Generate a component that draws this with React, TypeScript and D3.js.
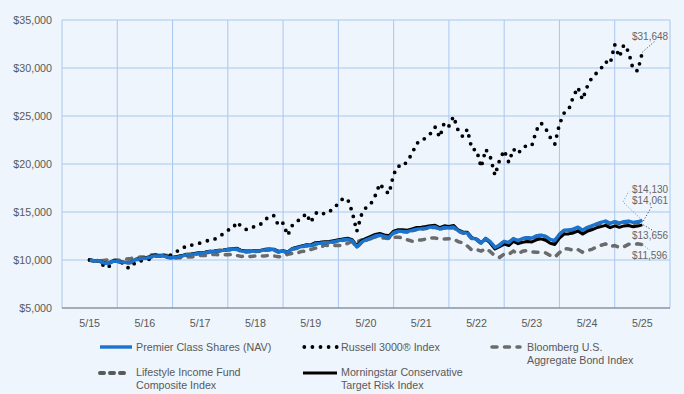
import React from 'react';
import * as d3 from 'd3';

// Month index 0 = 5/15 ... 120 = 5/25
const tickLabels = ['5/15', '5/16', '5/17', '5/18', '5/19', '5/20', '5/21', '5/22', '5/23', '5/24', '5/25'];
const yTicks = [5000, 10000, 15000, 20000, 25000, 30000, 35000];

const premier = [
  10000, 9900, 9930, 9700, 9620, 9880, 9860, 9780, 9720, 9760, 10050, 10130,
  10170, 10280, 10420, 10430, 10440, 10300, 10240, 10300, 10400, 10540, 10560, 10640,
  10730, 10760, 10860, 10900, 10960, 11000, 11080, 11120, 11150, 10930, 10880, 10900,
  10940, 10950, 11060, 11100, 11080, 10860, 10920, 10800, 11150, 11270, 11400, 11520,
  11480, 11700, 11740, 11800, 11830, 11920, 12020, 12100, 12160, 12020, 11350, 11850,
  12100, 12290, 12500, 12600, 12450, 12360, 12850, 13000, 12980, 12950, 13080, 13220,
  13260, 13320, 13420, 13460, 13220, 13400, 13330, 13440, 13050, 12850, 12800, 12250,
  12180, 11780, 12220, 11900, 11300, 11550, 11950, 11800, 12230, 12000, 12250, 12330,
  12280, 12500, 12600, 12460, 12150, 12020, 12680, 13100, 13120, 13220, 13420, 13100,
  13380, 13550, 13750, 13930, 14060, 13820, 14000, 13850, 14000, 14050, 13920, 13980,
  14130,
];

const russell = [
  10000, 9810, 9980, 9420, 9170, 9900, 9940, 9740, 9200, 9200, 9830, 9890,
  10060, 10080, 10460, 10480, 10480, 10250, 10720, 10920, 11110, 11520, 11530, 11650,
  11770, 11880, 12100, 12130, 12440, 12720, 13110, 13250, 13960, 13440, 13180, 13230,
  13600, 13680, 14100, 14600, 14620, 13580, 13850, 12560, 13600, 14060, 14270, 14860,
  13900, 14850, 15060, 14780, 15030, 15360, 15930, 16390, 16370, 15020, 12980, 14680,
  15460, 15800, 16700, 17950, 17290, 16900, 18930, 19790, 19720, 20340, 21070, 22180,
  22290, 22800, 23170, 23840, 22780, 24310, 23950, 24960, 23500, 22850, 23620, 21520,
  21480, 19660, 21530, 20720, 18820, 20400, 21420, 20170, 21560, 21070, 21720, 21930,
  21900, 23520, 24270, 23700, 22770, 22080, 24150, 25300, 25650, 27000, 27980, 26700,
  28030, 28960, 29450, 29930, 30660, 30420, 32430, 31150, 32430, 31700, 29840, 29700,
  31648,
];

const bloomberg = [
  10000, 9891, 9960, 9946, 10014, 10016, 9990, 9958, 10095, 10167, 10261, 10300,
  10303, 10488, 10554, 10543, 10536, 10456, 10208, 10223, 10243, 10312, 10307, 10386,
  10466, 10456, 10501, 10595, 10544, 10551, 10537, 10586, 10464, 10365, 10431, 10354,
  10428, 10415, 10417, 10484, 10417, 10334, 10396, 10587, 10699, 10693, 10898, 10901,
  11095, 11235, 11260, 11551, 11489, 11524, 11518, 11510, 11731, 11942, 11872, 12083,
  12140, 12216, 12398, 12298, 12292, 12237, 12357, 12374, 12285, 12108, 11957, 12051,
  12091, 12175, 12311, 12288, 12181, 12177, 12214, 12182, 11920, 11786, 11458, 11024,
  11095, 10921, 11187, 10870, 10400, 10265, 10643, 10595, 10921, 10638, 10908, 10975,
  10855, 10816, 10808, 10739, 10466, 10301, 10768, 11180, 11150, 10993, 11094, 10813,
  10997, 11101, 11361, 11525, 11679, 11389, 11510, 11321, 11381, 11631, 11636, 11681,
  11596,
];

const lifestyle = [
  10000, 9890, 9920, 9690, 9610, 9870, 9850, 9770, 9710, 9750, 10040, 10110,
  10150, 10260, 10400, 10410, 10420, 10280, 10220, 10280, 10380, 10520, 10540, 10620,
  10710, 10740, 10840, 10880, 10940, 10980, 11060, 11100, 11130, 10910, 10860, 10880,
  10920, 10930, 11040, 11080, 11060, 10840, 10900, 10780, 11130, 11250, 11380, 11500,
  11460, 11680, 11720, 11780, 11810, 11900, 12000, 12080, 12140, 12000, 11340, 11830,
  12080, 12270, 12480, 12580, 12430, 12340, 12830, 12980, 12960, 12930, 13060, 13200,
  13240, 13300, 13400, 13440, 13200, 13380, 13310, 13420, 13030, 12830, 12770, 12220,
  12150, 11750, 12190, 11870, 11270, 11520, 11920, 11770, 12200, 11970, 12210, 12290,
  12240, 12460, 12560, 12410, 12100, 11970, 12630, 13040, 13060, 13160, 13360, 13040,
  13320, 13490, 13690, 13870, 14000, 13760, 13940, 13790, 13930, 13980, 13850, 13910,
  14061,
];

const morningstar = [
  10000, 9920, 9950, 9720, 9640, 9900, 9880, 9800, 9740, 9780, 10070, 10150,
  10220, 10340, 10490, 10490, 10500, 10360, 10290, 10360, 10460, 10600, 10620, 10700,
  10780, 10810, 10910, 10950, 11010, 11050, 11130, 11170, 11220, 10980, 10930, 10950,
  10990, 11000, 11110, 11150, 11130, 10900, 10970, 10840, 11210, 11330, 11460, 11580,
  11570, 11800, 11840, 11900, 11930, 12020, 12120, 12200, 12260, 12110, 11500, 12000,
  12260, 12450, 12660, 12760, 12610, 12520, 13010, 13160, 13140, 13110, 13240, 13380,
  13420, 13480, 13580, 13620, 13380, 13560, 13490, 13600, 13130, 12930, 12880, 12330,
  12180, 11780, 12220, 11750, 11150, 11400, 11650, 11500, 11930, 11700, 11850, 11930,
  11880, 12100, 12200, 12060, 11750, 11620, 12280, 12700, 12720, 12820, 13020, 12700,
  12980, 13150, 13350, 13480, 13610, 13370, 13550, 13400, 13550, 13600, 13470, 13530,
  13656,
];

const FONT = 'Arial, "Liberation Sans", Helvetica, sans-serif';
const BLUE = '#1a73cc';
const GRID = '#a9c7ef';
const TEXT = '#595959';

export default function App() {
  const W = 684;
  const H = 394;
  const x = d3.scaleLinear().domain([-6, 126]).range([62, 670]);
  const y = d3.scaleLinear().domain([5000, 35000]).range([308, 20]);
  const line = d3
    .line<number>()
    .x((_, i) => x(i))
    .y((d) => y(d));

  const fmt = (v: number) => '$' + d3.format(',')(v);
  const last = (a: number[]) => a[a.length - 1];
  const xe = x(120);

  const vGrid = d3.range(0, 12).map((k) => -6 + 12 * k);

  return (
    <svg
      width={W}
      height={H}
      style={{ position: 'absolute', left: 0, top: 0, display: 'block' }}
      fontFamily={FONT}
    >
      <rect x={0} y={0} width={W} height={H} fill="#eef5fc" />
      {/* grid */}
      {yTicks.map((t) => (
        <line key={'h' + t} x1={x(-6)} x2={x(126)} y1={y(t)} y2={y(t)} stroke={GRID} strokeWidth={1} />
      ))}
      {vGrid.map((m) => (
        <line key={'v' + m} x1={x(m)} x2={x(m)} y1={y(35000)} y2={y(5000)} stroke={GRID} strokeWidth={1} />
      ))}
      <line x1={x(-6)} x2={x(126)} y1={y(5000)} y2={y(5000)} stroke="#7a7a7a" strokeWidth={1} />

      {/* y labels */}
      {yTicks.map((t) => (
        <text key={'yl' + t} x={52} y={y(t)} dy="0.35em" textAnchor="end" fontSize={10.7} fill={TEXT}>
          {fmt(t)}
        </text>
      ))}
      {/* x labels */}
      {tickLabels.map((l, i) => (
        <text key={'xl' + l} x={x(i * 12)} y={327} textAnchor="middle" fontSize={10.7} fill={TEXT}>
          {l}
        </text>
      ))}

      {/* series */}
      <path d={line(bloomberg) || ''} fill="none" stroke="#6b6b6b" strokeWidth={3.5} strokeDasharray="5,7.5" strokeLinecap="round" />
      <path d={line(lifestyle) || ''} fill="none" stroke="#5a5a5a" strokeWidth={4} strokeDasharray="4,6" strokeLinecap="round" />
      <path d={line(russell) || ''} fill="none" stroke="#000" strokeWidth={3.8} strokeDasharray="0,8.1" strokeLinecap="round" />
      <path d={line(morningstar) || ''} fill="none" stroke="#000" strokeWidth={3} strokeLinejoin="round" />
      <path d={line(premier) || ''} fill="none" stroke={BLUE} strokeWidth={3.4} strokeLinejoin="round" />

      {/* end labels with leader lines */}
      <polyline points={`${xe},${y(last(russell))} 655,41`} fill="none" stroke="#333" strokeWidth={1} strokeDasharray="1,2" />
      <text x={632} y={39.5} fontSize={10} fill="#666">{fmt(last(russell))}</text>

      <polyline points={`${xe},${y(last(premier))} 623,202 629,191`} fill="none" stroke="#4a95e0" strokeWidth={1} strokeDasharray="1,2" />
      <text x={632} y={192.5} fontSize={10} fill="#666">{fmt(last(premier))}</text>

      <polyline points={`${xe + 1},${y(last(lifestyle))} 652,206`} fill="none" stroke="#333" strokeWidth={1} strokeDasharray="1,2" />
      <text x={632} y={204.2} fontSize={10} fill="#666">{fmt(last(lifestyle))}</text>

      <polyline points={`${xe + 1},${y(last(morningstar))} 652,230`} fill="none" stroke="#333" strokeWidth={1} strokeDasharray="1,2" />
      <text x={632} y={239.2} fontSize={10} fill="#666">{fmt(last(morningstar))}</text>

      <polyline points={`${xe},${y(last(bloomberg))} 650,250`} fill="none" stroke="#888" strokeWidth={1} strokeDasharray="1,2" />
      <text x={632} y={258.5} fontSize={10} fill="#666">{fmt(last(bloomberg))}</text>

      {/* legend */}
      <g fontSize={10.7} fill={TEXT}>
        <line x1={100} x2={132} y1={347} y2={347} stroke={BLUE} strokeWidth={3.4} />
        <text x={136} y={351}>Premier Class Shares (NAV)</text>

        <line x1={304.3} x2={337} y1={347} y2={347} stroke="#000" strokeWidth={3.8} strokeDasharray="0,8.1" strokeLinecap="round" />
        <text x={341} y={351}>Russell 3000® Index</text>

        <line x1={492} x2={520} y1={347} y2={347} stroke="#6b6b6b" strokeWidth={3.5} strokeDasharray="5,7.5" strokeLinecap="round" />
        <text x={527} y={351}>Bloomberg U.S.</text>
        <text x={527} y={364}>Aggregate Bond Index</text>

        <line x1={100} x2={130} y1={373} y2={373} stroke="#5a5a5a" strokeWidth={4} strokeDasharray="4,6" strokeLinecap="round" />
        <text x={136} y={376}>Lifestyle Income Fund</text>
        <text x={136} y={389}>Composite Index</text>

        <line x1={303} x2={337} y1={373} y2={373} stroke="#000" strokeWidth={3} />
        <text x={341} y={376}>Morningstar Conservative</text>
        <text x={341} y={389}>Target Risk Index</text>
      </g>
    </svg>
  );
}
